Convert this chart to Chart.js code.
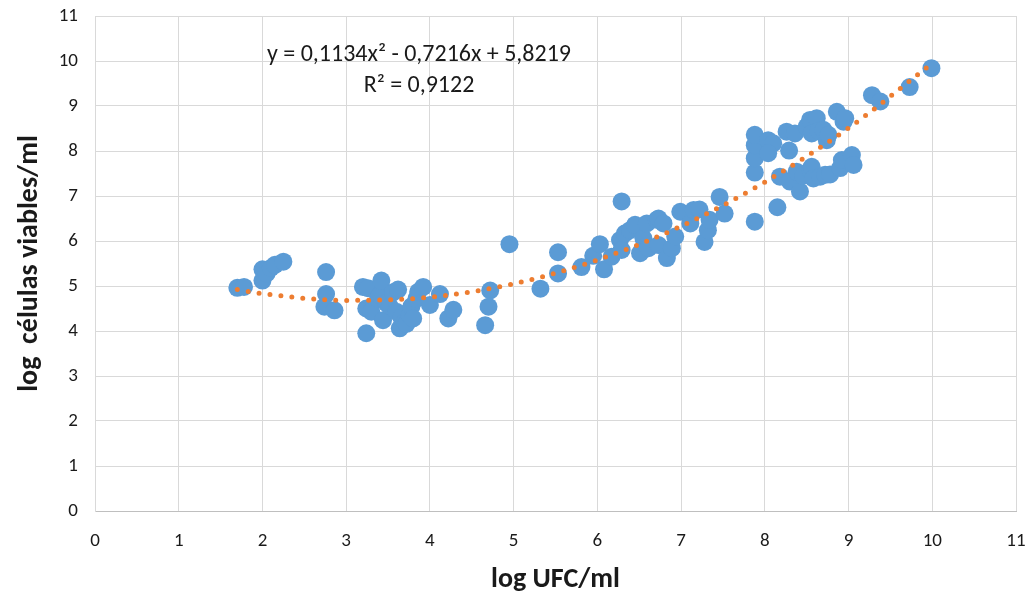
<!DOCTYPE html>
<html>
<head>
<meta charset="utf-8">
<script src="https://cdn.jsdelivr.net/npm/chart.js@4/dist/chart.umd.min.js"></script>
<style>
  html,body{margin:0;padding:0;background:#fff;}
  #wrap{width:1033px;height:598px;}
</style>
</head>
<body>
<div id="wrap"><canvas id="chart" width="1033" height="598"></canvas></div>
<script>
// ===== data =====
const ufc = [
 1.70,1.78,2.00,2.00,2.05,2.10,2.15,2.25,2.76,2.76,2.74,2.86,
 3.20,3.24,3.24,3.26,3.30,3.38,3.40,3.42,3.44,3.48,3.52,3.56,3.60,3.62,3.64,3.66,3.70,3.72,
 3.76,3.78,3.80,3.84,3.86,3.92,4.00,4.12,4.22,4.28,
 4.66,4.70,4.72,4.95,5.32,5.53,5.53,5.81,5.95,6.03,6.08,6.17,6.27,6.29,6.29,6.33,6.39,6.45,
 6.51,6.55,6.59,6.61,6.71,6.73,6.73,6.79,6.83,6.89,6.93,6.99,7.11,7.15,7.22,7.28,7.32,7.34,
 7.46,7.52,7.88,8.15,
 7.88,7.88,7.88,7.88,8.04,8.10,8.04,8.29,8.26,8.36,8.50,8.54,8.62,8.56,8.64,8.70,8.74,8.76,
 8.86,8.94,8.96,
 8.18,8.30,8.38,8.42,8.46,8.54,8.56,8.58,8.66,8.72,8.78,8.90,8.92,9.04,9.06,
 9.28,9.38,9.73,9.99
];
const viables = [
 4.96,4.98,5.37,5.12,5.28,5.40,5.47,5.54,5.31,4.82,4.54,4.46,
 4.98,4.50,3.95,4.95,4.43,4.72,4.80,5.12,4.24,4.62,4.55,4.86,4.43,4.92,4.06,4.30,4.20,4.16,
 4.36,4.55,4.28,4.72,4.87,4.98,4.58,4.82,4.28,4.47,
 4.13,4.54,4.90,5.93,4.94,5.75,5.28,5.42,5.67,5.93,5.37,5.65,6.02,5.80,6.88,6.17,6.24,6.36,
 5.73,6.06,6.39,5.84,6.47,6.50,5.91,6.39,5.62,5.84,6.10,6.65,6.39,6.69,6.70,5.98,6.24,6.47,
 6.98,6.61,6.43,6.75,
 7.52,7.84,8.13,8.36,8.24,8.17,7.95,8.01,8.43,8.39,8.54,8.69,8.73,8.39,8.45,8.47,8.24,8.36,
 8.87,8.65,8.73,
 7.43,7.32,7.54,7.10,7.45,7.58,7.65,7.39,7.43,7.47,7.48,7.62,7.80,7.91,7.69,
 9.24,9.10,9.42,9.84
];

// polynomial trendline
const trendX = [1.7, 2, 3, 4, 5, 6, 7, 8, 9, 10];
const trendY = [4.92, 4.83, 4.68, 4.75, 5.05, 5.58, 6.33, 7.31, 8.51, 9.95];

const eqLine = "y = 0,1134x\u00B2 - 0,7216x + 5,8219";
const r2Line = "R\u00B2 = 0,9122";

const FONT = "Carlito, Lato, 'Open Sans', sans-serif";

let points = ufc.map(function(v,i){ return {x:v, y:viables[i]}; });
let trend = trendX.map(function(v,i){ return {x:v, y:trendY[i]}; });

// ===== equation label =====
const eqPlugin = {
  id:"eqLabel",
  afterDatasetsDraw:function(chart){
    let c = chart.ctx;
    c.save();
    c.font = "24px " + FONT;
    c.fillStyle = "#1a1a1a";
    c.textAlign = "center";
    c.textBaseline = "middle";
    c.fillText(eqLine, 419, 55);
    c.fillText(r2Line, 419, 86);
    c.restore();
  }
};

new Chart(document.getElementById("chart"), {
  type:"scatter",
  data:{
    datasets:[
      {
        label:"datos",
        data:points,
        backgroundColor:"#5b9bd5",
        borderWidth:0,
        pointRadius:9,
        pointHoverRadius:9,
        order:2
      },
      {
        type:"line",
        label:"tendencia",
        data:trend,
        borderColor:"#ed7d31",
        borderWidth:5,
        borderDash:[0,11],
        borderCapStyle:"round",
        pointRadius:0,
        cubicInterpolationMode:"monotone",
        fill:false,
        order:1
      }
    ]
  },
  options:{
    responsive:false,
    animation:false,
    events:[],
    layout:{padding:{top:16, right:17, left:0, bottom:0}},
    plugins:{legend:{display:false}, tooltip:{enabled:false}},
    scales:{
      x:{
        type:"linear",
        min:0, max:11,
        afterFit:function(s){ s.height = 87; s.paddingLeft = 0; s.paddingRight = 0; },
        ticks:{stepSize:1, padding:19, color:"#1a1a1a", font:{family:FONT, size:19}},
        grid:{color:"#d9d9d9", lineWidth:1, drawTicks:false},
        border:{color:"#bfbfbf"},
        title:{display:true, text:"log UFC/ml", color:"#1a1a1a",
               font:{family:FONT, size:28, weight:"bold"}, padding:{top:0,bottom:1}}
      },
      y:{
        type:"linear",
        min:0, max:11,
        afterFit:function(s){ s.width = 95; s.paddingTop = 0; s.paddingBottom = 0; },
        ticks:{stepSize:1, padding:17, color:"#1a1a1a", font:{family:FONT, size:19}},
        grid:{color:"#d9d9d9", lineWidth:1, drawTicks:false},
        border:{color:"#d9d9d9"},
        title:{display:true, text:"log  c\u00E9lulas viables/ml", color:"#1a1a1a",
               font:{family:FONT, size:28, weight:"bold"}, padding:{top:13,bottom:0}}
      }
    }
  },
  plugins:[eqPlugin]
});
</script>
</body>
</html>
